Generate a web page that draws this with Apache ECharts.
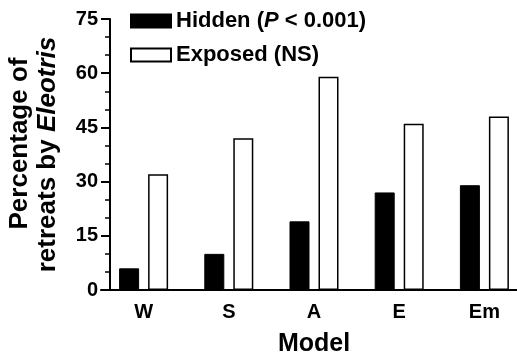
<!DOCTYPE html>
<html>
<head>
<meta charset="utf-8">
<script src="https://cdn.jsdelivr.net/npm/echarts@6/dist/echarts.min.js"></script>
<style>
  html, body { margin: 0; padding: 0; background: #fff; }
  #chart { width: 517px; height: 359px; }
</style>
</head>
<body>
<div id="chart"></div>
<script>
const models = ['W', 'S', 'A', 'E', 'Em'];
const hiddenValues = [6, 10, 19, 27, 29];
const exposedValues = [32, 42, 59, 46, 48];

const font = 'Liberation Sans, Arial, sans-serif';

const chart = echarts.init(document.getElementById('chart'));
chart.setOption({
  animation: false,
  backgroundColor: '#fff',
  textStyle: { fontFamily: font, color: '#000' },
  grid: { left: 101, right: -10, top: 19, bottom: 69, containLabel: false, outerBoundsMode: 'none' },
  legend: {
    orient: 'vertical',
    left: 130,
    top: 10,
    padding: 0,
    itemWidth: 40,
    itemHeight: 13,
    itemGap: 12,
    icon: 'rect',
    textStyle: {
      fontFamily: font, fontWeight: 'bold', fontSize: 22, color: '#000',
      rich: {
        b: { fontFamily: font, fontWeight: 'bold', fontSize: 22, color: '#000' },
        i: { fontFamily: font, fontWeight: 'bold', fontStyle: 'italic', fontSize: 22, color: '#000' }
      }
    },
    formatter: function (name) {
      if (name === 'Hidden') return '{b|Hidden (}{i|P}{b| < 0.001)}';
      return '{b|Exposed (NS)}';
    },
    data: ['Hidden', 'Exposed']
  },
  xAxis: {
    type: 'category',
    data: models,
    name: 'Model',
    nameLocation: 'middle',
    nameGap: 42,
    nameTextStyle: { fontFamily: font, fontWeight: 'bold', fontSize: 25, color: '#000' },
    axisLine: { lineStyle: { color: '#000', width: 2 } },
    axisTick: { show: false },
    axisLabel: { fontFamily: font, fontWeight: 'bold', fontSize: 20, color: '#000', margin: 12 }
  },
  yAxis: {
    type: 'value',
    min: 0,
    max: 75,
    interval: 15,
    offset: -9,
    name: '{p|Percentage of}\n{a|retreats by }{i|Eleotris}',
    nameLocation: 'middle',
    nameGap: 48,
    nameTextStyle: {
      lineHeight: 28,
      rich: {
        p: { fontFamily: font, fontWeight: 'bold', fontSize: 26, color: '#000', lineHeight: 28, padding: [0, 0, 0, 22] },
        a: { fontFamily: font, fontWeight: 'bold', fontSize: 26, color: '#000', lineHeight: 28 },
        i: { fontFamily: font, fontWeight: 'bold', fontStyle: 'italic', fontSize: 26, color: '#000', lineHeight: 28 }
      }
    },
    axisLine: { show: true, lineStyle: { color: '#000', width: 2 } },
    axisTick: { show: true, length: 9, lineStyle: { color: '#000', width: 2 } },
    minorTick: { show: true, splitNumber: 3, length: 5, lineStyle: { color: '#000', width: 1.5 } },
    splitLine: { show: false },
    axisLabel: { fontFamily: font, fontWeight: 'bold', fontSize: 20, color: '#000', margin: 12 }
  },
  series: [
    {
      name: 'Hidden',
      type: 'bar',
      data: hiddenValues,
      barWidth: 20,
      barGap: '45%',
      itemStyle: { color: '#000', borderColor: '#000', borderWidth: 1 }
    },
    {
      name: 'Exposed',
      type: 'bar',
      data: exposedValues,
      barWidth: 20,
      itemStyle: { color: '#fff', borderColor: '#000', borderWidth: 1.5 }
    }
  ]
});
</script>
</body>
</html>
